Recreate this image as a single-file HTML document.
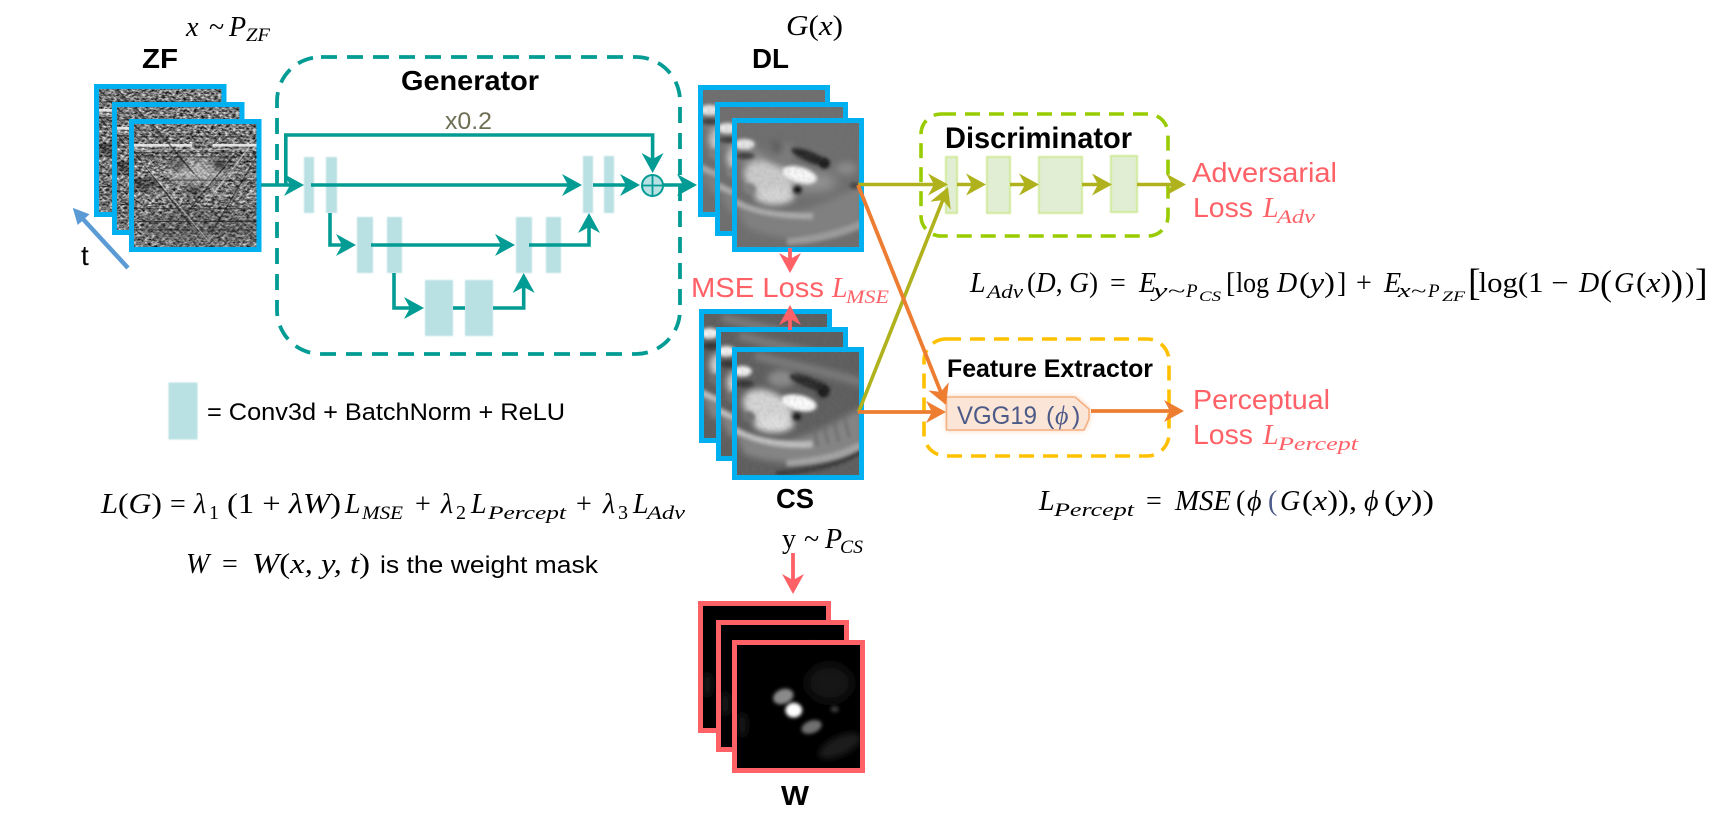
<!DOCTYPE html>
<html><head><meta charset="utf-8"><title>GAN diagram</title>
<style>
html,body{margin:0;padding:0;background:#fff;width:1715px;height:831px;overflow:hidden}
svg{display:block}
text{font-family:"Liberation Sans",sans-serif;white-space:pre}
.b{font-weight:bold;fill:#000}
.r{font-size:28px;fill:#ff6167}
.m{font-family:"Liberation Serif",serif;font-style:italic;font-size:28px;fill:#000}
.u{font-family:"Liberation Serif",serif;font-size:28px;fill:#000}
.s{font-family:"Liberation Serif",serif;font-style:italic;font-size:19px;fill:#000}
.ss{font-family:"Liberation Serif",serif;font-style:italic;font-size:15px;fill:#000}
.rm{fill:#ff6167}
.t{stroke:#029c94;stroke-width:3.6;fill:none}
.o{stroke:#afb11d;stroke-width:3.6;fill:none}
.g{stroke:#ed7d31;stroke-width:3.8;fill:none}
.bk{fill:#b9e0e3;filter:url(#soft)}
.dk{fill:#e1eed3;stroke:#cfe99a;stroke-width:2;filter:url(#soft2)}
.fb{fill:none;stroke:#00b0f0;stroke-width:5}
.fr{fill:none;stroke:#ff6167;stroke-width:5}
</style></head><body>
<svg width="1715" height="831" viewBox="0 0 1715 831" xmlns="http://www.w3.org/2000/svg">
<defs>
<filter id="soft" x="-30%" y="-10%" width="160%" height="120%"><feGaussianBlur stdDeviation="0.9"/></filter>
<filter id="soft2" x="-30%" y="-10%" width="160%" height="120%"><feGaussianBlur stdDeviation="0.6"/></filter>
<filter id="b1" x="-60%" y="-60%" width="220%" height="220%"><feGaussianBlur stdDeviation="1.7"/></filter>
<filter id="b2" x="-60%" y="-60%" width="220%" height="220%"><feGaussianBlur stdDeviation="3.2"/></filter>
<filter id="b4" x="-60%" y="-60%" width="220%" height="220%"><feGaussianBlur stdDeviation="5.5"/></filter>
<filter id="glow" x="-10%" y="-30%" width="120%" height="160%"><feGaussianBlur stdDeviation="3"/></filter>
<filter id="noise" x="0" y="0" width="100%" height="100%" color-interpolation-filters="sRGB">
 <feTurbulence type="fractalNoise" baseFrequency="0.3 0.5" numOctaves="3" seed="7"/>
 <feColorMatrix type="matrix" values="1.5 0 0 0 -0.28  1.5 0 0 0 -0.28  1.5 0 0 0 -0.28  0 0 0 0 1"/>
</filter>
<filter id="grain" x="0" y="0" width="100%" height="100%" color-interpolation-filters="sRGB">
 <feTurbulence type="fractalNoise" baseFrequency="0.28" numOctaves="2" seed="3"/>
 <feColorMatrix type="matrix" values="0 0 0 0 0.5  0 0 0 0 0.5  0 0 0 0 0.5  1.2 0 0 0 -0.45"/>
</filter>
<pattern id="d1" width="9" height="9" patternUnits="userSpaceOnUse" patternTransform="rotate(42)"><rect width="1" height="9" fill="#222" opacity=".3"/><rect x="4" width="1" height="9" fill="#eee" opacity=".2"/></pattern>
<pattern id="d2" width="11" height="11" patternUnits="userSpaceOnUse" patternTransform="rotate(-42)"><rect width="1" height="11" fill="#222" opacity=".28"/><rect x="5" width="1" height="11" fill="#eee" opacity=".18"/></pattern>
<marker id="at" markerUnits="userSpaceOnUse" markerWidth="22" markerHeight="22" viewBox="0 0 22 22" refX="12" refY="11" orient="auto"><path d="M0,0 L20,11 L0,22 L6,11Z" fill="#029c94"/></marker>
<marker id="ao" markerUnits="userSpaceOnUse" markerWidth="22" markerHeight="22" viewBox="0 0 22 22" refX="12" refY="11" orient="auto"><path d="M0,0 L20,11 L0,22 L6,11Z" fill="#afb11d"/></marker>
<marker id="ag" markerUnits="userSpaceOnUse" markerWidth="22" markerHeight="22" viewBox="0 0 22 22" refX="12" refY="11" orient="auto"><path d="M0,0 L20,11 L0,22 L6,11Z" fill="#ed7d31"/></marker>
<marker id="ar" markerUnits="userSpaceOnUse" markerWidth="22" markerHeight="22" viewBox="0 0 22 22" refX="12" refY="11" orient="auto"><path d="M0,0 L20,11 L0,22 L6,11Z" fill="#ff6167"/></marker>
<marker id="ab" markerUnits="userSpaceOnUse" markerWidth="18" markerHeight="18" viewBox="0 0 18 18" refX="3" refY="9" orient="auto"><path d="M0,1 L16,9 L0,17Z" fill="#5b9bd5"/></marker>

<symbol id="zf" viewBox="0 0 122 122" preserveAspectRatio="none">
 <rect width="122" height="122" fill="#808080"/>
 <rect width="122" height="122" filter="url(#noise)"/>
 <ellipse cx="62" cy="48" rx="28" ry="13" fill="#d8d8d8" opacity=".55" filter="url(#b4)"/>
 <ellipse cx="45" cy="41" rx="8" ry="4" fill="#111" opacity=".7" filter="url(#b2)"/>
 <ellipse cx="85" cy="41" rx="9" ry="4" fill="#111" opacity=".75" filter="url(#b2)"/>
 <ellipse cx="12" cy="60" rx="12" ry="5" fill="#111" opacity=".6" filter="url(#b2)"/>
 <ellipse cx="60" cy="66" rx="8" ry="5" fill="#111" opacity=".6" filter="url(#b2)"/>
 <ellipse cx="70" cy="100" rx="60" ry="18" fill="#444" opacity=".35" filter="url(#b4)"/>
 <rect width="122" height="122" fill="url(#d1)"/>
 <rect width="122" height="122" fill="url(#d2)"/>
 <g fill="none" stroke-width="1">
  <path d="M0,15H122M0,30H122M0,34H122M0,56H122M0,83H122M0,95H122M0,103H122" stroke="#111" opacity=".55"/>
  <path d="M0,23H58M78,23H120" stroke="#eee" stroke-width="2.5" opacity=".9"/>
  <path d="M0,27H122M0,50H122M0,70H122" stroke="#ddd" opacity=".4"/>
  <path d="M0,25L58,100M18,0L60,50M100,30L52,88M122,30L80,100" stroke="#111" stroke-width="1.4" opacity=".55"/>
  <path d="M10,38L75,115M120,15L70,80" stroke="#eee" stroke-width="1.2" opacity=".45"/>
 </g>
</symbol>

<symbol id="dl" viewBox="0 0 122 122" preserveAspectRatio="none">
 <rect width="122" height="122" fill="#6e6e6e"/>
 <path d="M0,78 C30,95 60,92 122,60 L122,100 C90,115 40,115 10,100Z" fill="#808080" filter="url(#b2)"/>
 <path d="M0,76 C20,88 50,90 75,90" fill="none" stroke="#aaa" stroke-width="6" filter="url(#b1)"/>
 <path d="M50,114 C80,112 105,105 122,97" fill="none" stroke="#9c9c9c" stroke-width="7" filter="url(#b1)"/>
 <path d="M8,30 C25,40 65,70 95,55" fill="#a8a8a8" stroke="#a8a8a8" stroke-width="14" filter="url(#b4)" opacity=".7"/>
 <ellipse cx="32" cy="56" rx="25" ry="16" fill="#cacaca" filter="url(#b2)" transform="rotate(25 32 56)"/>
 <ellipse cx="38" cy="71" rx="19" ry="8" fill="#d4d4d4" filter="url(#b2)"/>
 <ellipse cx="62" cy="51" rx="17" ry="7.5" fill="#f6f6f6" filter="url(#b1)" transform="rotate(15 62 51)"/>
 <ellipse cx="9" cy="22" rx="10" ry="5" fill="#e6e6e6" filter="url(#b1)"/>
 <ellipse cx="10" cy="33" rx="9" ry="3" fill="#3a3a3a" filter="url(#b1)"/>
 <ellipse cx="45" cy="30" rx="13" ry="10" fill="#7d7d7d" filter="url(#b2)"/>
 <ellipse cx="40" cy="25" rx="6" ry="7" fill="#4e4e4e" opacity=".6" filter="url(#b2)"/>
 <ellipse cx="72" cy="34" rx="19" ry="5" fill="#262626" filter="url(#b1)" transform="rotate(22 72 34)"/>
 <ellipse cx="86" cy="40" rx="5" ry="5" fill="#1a1a1a" filter="url(#b1)"/>
 <ellipse cx="60" cy="65" rx="4" ry="3.5" fill="#080808" filter="url(#b1)"/>
 <ellipse cx="14" cy="64" rx="6" ry="5" fill="#808080" filter="url(#b1)"/>
 <ellipse cx="115" cy="61" rx="5" ry="3" fill="#444" filter="url(#b1)"/>
 <ellipse cx="107" cy="45" rx="10" ry="6" fill="#8a8a8a" filter="url(#b2)"/>
 <rect width="122" height="122" filter="url(#grain)" opacity=".25"/>
</symbol>

<symbol id="cs" viewBox="0 0 122 122" preserveAspectRatio="none">
 <rect width="122" height="122" fill="#5e5e5e"/>
 <path d="M0,78 C30,95 60,92 122,55 L122,100 C90,112 40,110 10,100Z" fill="#858585" filter="url(#b2)"/>
 <path d="M0,76 C20,88 50,92 75,90" fill="none" stroke="#c0c0c0" stroke-width="6" filter="url(#b1)"/>
 <path d="M40,118 C80,114 105,108 122,97" fill="none" stroke="#3a3a3a" stroke-width="5" filter="url(#b1)"/>
 <path d="M50,108 C80,106 105,100 122,90" fill="none" stroke="#a5a5a5" stroke-width="6" filter="url(#b1)"/>
 <path d="M20,6 C55,16 85,20 122,32" fill="none" stroke="#808080" stroke-width="7" filter="url(#b2)"/>
 <ellipse cx="32" cy="56" rx="25" ry="16" fill="#d4d4d4" filter="url(#b2)" transform="rotate(25 32 56)"/>
 <ellipse cx="38" cy="71" rx="19" ry="8" fill="#dedede" filter="url(#b2)"/>
 <ellipse cx="62" cy="51" rx="17" ry="7.5" fill="#fafafa" filter="url(#b1)" transform="rotate(12 62 51)"/>
 <ellipse cx="8" cy="21" rx="9" ry="5" fill="#f0f0f0" filter="url(#b1)"/>
 <ellipse cx="10" cy="33" rx="9" ry="3" fill="#303030" filter="url(#b1)"/>
 <ellipse cx="45" cy="28" rx="13" ry="8" fill="#8a8a8a" filter="url(#b2)"/>
 <ellipse cx="72" cy="32" rx="20" ry="5" fill="#2c2c2c" filter="url(#b1)" transform="rotate(20 72 32)"/>
 <ellipse cx="85" cy="40" rx="6" ry="6" fill="#1c1c1c" filter="url(#b1)"/>
 <ellipse cx="60" cy="64" rx="4" ry="3.5" fill="#161616" filter="url(#b1)"/>
 <ellipse cx="14" cy="64" rx="6" ry="5" fill="#707070" filter="url(#b1)"/>
 <path d="M75,72L80,92M85,70L90,90M95,68L100,88M105,64L110,84" stroke="#666" stroke-width="2" filter="url(#b1)"/>
 <rect width="122" height="122" filter="url(#grain)" opacity=".25"/>
</symbol>

<symbol id="wm" viewBox="0 0 122 122" preserveAspectRatio="none">
 <rect width="122" height="122" fill="#000"/>
 <ellipse cx="90" cy="38" rx="22" ry="18" fill="#141414" filter="url(#b4)"/>
 <ellipse cx="100" cy="98" rx="22" ry="9" fill="#1c1c1c" filter="url(#b2)" transform="rotate(-25 100 98)"/>
 <ellipse cx="7" cy="78" rx="5" ry="12" fill="#141414" filter="url(#b2)"/>
 <ellipse cx="46" cy="51" rx="10" ry="7" fill="#8a8a8a" filter="url(#b1)" transform="rotate(-20 46 51)"/>
 <ellipse cx="56" cy="64" rx="8" ry="7" fill="#ffffff" filter="url(#b1)"/>
 <ellipse cx="73" cy="80" rx="10" ry="6" fill="#707070" filter="url(#b1)" transform="rotate(-20 73 80)"/>
 <ellipse cx="95" cy="63" rx="4" ry="3" fill="#3a3a3a" filter="url(#b1)"/>
</symbol>
</defs>

<rect width="1715" height="831" fill="#fff"/>

<!-- ZF stack -->
<use href="#zf" x="96" y="86" width="128" height="129"/><rect x="96.5" y="86.5" width="127.5" height="128" class="fb"/>
<use href="#zf" x="114" y="104" width="128" height="129"/><rect x="114.5" y="104.5" width="127.5" height="128" class="fb"/>
<use href="#zf" x="131" y="121" width="128" height="129"/><rect x="131.5" y="121.5" width="127.5" height="128" class="fb"/>
<text x="142" y="68" class="b" font-size="28" textLength="36" lengthAdjust="spacingAndGlyphs">ZF</text>
<text x="186" y="36" class="m">x</text><text x="209" y="36" class="u">~</text><text x="229" y="36" class="m">P</text><text x="246" y="41" class="s" textLength="24" lengthAdjust="spacingAndGlyphs">ZF</text>
<line x1="128" y1="268" x2="79" y2="220" stroke="#5b9bd5" stroke-width="4.5" transform="rotate(3 128 268)" marker-end="url(#ab)"/>
<text x="81" y="265" font-size="28" fill="#000">t</text>

<!-- Generator -->
<rect x="277" y="57" width="403" height="297" rx="44" ry="44" fill="none" stroke="#029c94" stroke-width="3.8" stroke-dasharray="16 10"/>
<text x="401" y="90" class="b" font-size="28" textLength="138" lengthAdjust="spacingAndGlyphs">Generator</text>
<text x="445" y="129" font-size="24" fill="#6f6f55" textLength="47" lengthAdjust="spacingAndGlyphs">x0.2</text>

<rect class="bk" x="304" y="157" width="10" height="56"/><rect class="bk" x="326" y="157" width="11" height="56"/>
<rect class="bk" x="583" y="156" width="10" height="57"/><rect class="bk" x="604" y="156" width="10" height="57"/>
<rect class="bk" x="357" y="217" width="16" height="56"/><rect class="bk" x="387" y="217" width="15" height="56"/>
<rect class="bk" x="516" y="217" width="16" height="56"/><rect class="bk" x="546" y="217" width="15" height="56"/>
<rect class="bk" x="425" y="280" width="28" height="56"/><rect class="bk" x="465" y="280" width="28" height="56"/>

<path class="t" d="M285.8,185V135H652.6V165" marker-end="url(#at)"/>
<line class="t" x1="261" y1="185" x2="296" y2="185" marker-end="url(#at)"/>
<line class="t" x1="311" y1="185" x2="574" y2="185" marker-end="url(#at)"/>
<line class="t" x1="593" y1="185" x2="632" y2="185" marker-end="url(#at)"/>
<line class="t" x1="663" y1="185" x2="689" y2="185" marker-end="url(#at)"/>
<circle cx="652.5" cy="185.5" r="10.5" fill="#b9e0e3" stroke="#029c94" stroke-width="2"/>
<path d="M642,185.5H663M652.5,175V196" stroke="#029c94" stroke-width="1.8"/>
<path class="t" d="M330,213V245H348" marker-end="url(#at)"/>
<line class="t" x1="371" y1="245" x2="507" y2="245" marker-end="url(#at)"/>
<path class="t" d="M529,245H589V221" marker-end="url(#at)"/>
<path class="t" d="M394,273V308H416" marker-end="url(#at)"/>
<line class="t" x1="453" y1="308" x2="465" y2="308"/>
<path class="t" d="M493,308H523.7V281" marker-end="url(#at)"/>

<!-- Legend -->
<rect class="bk" x="168.5" y="382.5" width="29" height="57"/>
<text x="207" y="420" font-size="24" fill="#000" textLength="358" lengthAdjust="spacingAndGlyphs">= Conv3d + BatchNorm + ReLU</text>

<!-- L(G) -->
<text x="101" y="513" class="m" textLength="17" lengthAdjust="spacingAndGlyphs">L</text>
<text x="118" y="513" class="u" textLength="44" lengthAdjust="spacingAndGlyphs">(<tspan font-style="italic">G</tspan>)</text>
<text x="170" y="513" class="u">=</text>
<text x="194" y="513" class="m">λ</text><text x="209" y="519" class="u" style="font-size:20px">1</text>
<text x="227" y="513" class="u" textLength="114" lengthAdjust="spacingAndGlyphs">(1 + <tspan font-style="italic">λW</tspan>)</text>
<text x="345" y="513" class="m">L</text><text x="362" y="519" class="s" textLength="41" lengthAdjust="spacingAndGlyphs">MSE</text>
<text x="415" y="513" class="u">+</text>
<text x="441" y="513" class="m">λ</text><text x="456" y="519" class="u" style="font-size:20px">2</text>
<text x="471" y="513" class="m">L</text><text x="488" y="519" class="s" textLength="78" lengthAdjust="spacingAndGlyphs">Percept</text>
<text x="576" y="513" class="u">+</text>
<text x="603" y="513" class="m">λ</text><text x="618" y="519" class="u" style="font-size:20px">3</text>
<text x="633" y="513" class="m">L</text><text x="647" y="519" class="s" textLength="38" lengthAdjust="spacingAndGlyphs">Adv</text>

<!-- W eq -->
<text x="186" y="573" class="m">W</text>
<text x="222" y="573" class="u">=</text>
<text x="252" y="573" class="m" textLength="118" lengthAdjust="spacingAndGlyphs">W<tspan font-style="normal">(</tspan>x, y, t<tspan font-style="normal">)</tspan></text>
<text x="380" y="573" font-size="24" fill="#000" textLength="218" lengthAdjust="spacingAndGlyphs">is the weight mask</text>

<!-- DL stack -->
<use href="#dl" x="700" y="87" width="128" height="128"/><rect x="700.5" y="87.5" width="127" height="127" class="fb"/>
<use href="#dl" x="718" y="105" width="128" height="129"/><rect x="717.5" y="104.5" width="128" height="129" class="fb"/>
<use href="#dl" x="735" y="121" width="127" height="129"/><rect x="734.5" y="120.5" width="127" height="129" class="fb"/>
<text x="752" y="68" class="b" font-size="28" textLength="37" lengthAdjust="spacingAndGlyphs">DL</text>
<text x="786" y="35" class="m" textLength="57" lengthAdjust="spacingAndGlyphs">G<tspan font-style="normal">(</tspan>x<tspan font-style="normal">)</tspan></text>

<!-- CS stack -->
<use href="#cs" x="701" y="311" width="129" height="130"/><rect x="701.5" y="311.5" width="128" height="129" class="fb"/>
<use href="#cs" x="718" y="329" width="128" height="130"/><rect x="718.5" y="329.5" width="127" height="129" class="fb"/>
<use href="#cs" x="734" y="349" width="128" height="129"/><rect x="734.5" y="349.5" width="127" height="128" class="fb"/>
<text x="776" y="508" class="b" font-size="28" textLength="38" lengthAdjust="spacingAndGlyphs">CS</text>
<text x="782" y="548" class="u">y</text><text x="804" y="548" class="u">~</text><text x="825" y="548" class="m">P</text><text x="840" y="553" class="s" textLength="23" lengthAdjust="spacingAndGlyphs">CS</text>

<!-- MSE -->
<line x1="790" y1="248" x2="790" y2="265" stroke="#ff6167" stroke-width="3.8" marker-end="url(#ar)"/>
<text x="691" y="297" class="r" textLength="133" lengthAdjust="spacingAndGlyphs">MSE Loss</text>
<text x="832" y="297" class="m rm">L</text><text x="846" y="303" class="s rm" textLength="43" lengthAdjust="spacingAndGlyphs">MSE</text>
<line x1="790" y1="330" x2="790" y2="313" stroke="#ff6167" stroke-width="3.8" marker-end="url(#ar)"/>

<!-- W stack -->
<line x1="793" y1="553" x2="793" y2="586" stroke="#ff6167" stroke-width="3.8" marker-end="url(#ar)"/>
<use href="#wm" x="700" y="603" width="129" height="128"/><rect x="700.5" y="603.5" width="128" height="127" class="fr"/>
<use href="#wm" x="718" y="622" width="129" height="128"/><rect x="718.5" y="622.5" width="128" height="127" class="fr"/>
<use href="#wm" x="735" y="643" width="128" height="128"/><rect x="734.5" y="642.5" width="128" height="128" class="fr"/>
<text x="781" y="805" class="b" font-size="28" textLength="28" lengthAdjust="spacingAndGlyphs">W</text>

<!-- Discriminator -->
<rect x="921" y="114" width="247" height="122" rx="20" ry="20" fill="none" stroke="#99cc00" stroke-width="3.6" stroke-dasharray="15 9"/>
<text x="945" y="148" class="b" font-size="30" textLength="187" lengthAdjust="spacingAndGlyphs">Discriminator</text>
<rect class="dk" x="946" y="157" width="11" height="56"/>
<rect class="dk" x="987" y="157" width="23" height="56"/>
<rect class="dk" x="1039" y="157" width="43" height="56"/>
<rect class="dk" x="1111" y="156" width="26" height="56"/>
<line class="o" x1="858" y1="184.5" x2="940" y2="184.5" marker-end="url(#ao)"/>
<line class="o" x1="957" y1="184.5" x2="978" y2="184.5" marker-end="url(#ao)"/>
<line class="o" x1="1010" y1="184.5" x2="1031" y2="184.5" marker-end="url(#ao)"/>
<line class="o" x1="1082" y1="184.5" x2="1104" y2="184.5" marker-end="url(#ao)"/>
<line class="o" x1="1137" y1="184.5" x2="1178" y2="184.5" marker-end="url(#ao)"/>
<text x="1192" y="182" class="r" textLength="145" lengthAdjust="spacingAndGlyphs">Adversarial</text>
<text x="1193" y="217" class="r" textLength="60" lengthAdjust="spacingAndGlyphs">Loss</text>
<text x="1263" y="217" class="m rm">L</text><text x="1277" y="223" class="s rm" textLength="38" lengthAdjust="spacingAndGlyphs">Adv</text>

<!-- Feature Extractor -->
<rect x="924" y="339" width="245" height="117" rx="22" ry="22" fill="none" stroke="#ffc000" stroke-width="3.6" stroke-dasharray="15 9"/>
<text x="947" y="377" class="b" font-size="25" textLength="206" lengthAdjust="spacingAndGlyphs">Feature Extractor</text>
<path d="M946.5,397H1075L1089,409V419L1084,430H946.5Z" fill="#f4b183" filter="url(#glow)" opacity=".75"/>
<path d="M946.5,397H1075L1089,409V419L1084,430H946.5Z" fill="#fbe5d6" stroke="#f4b183" stroke-width="1.6"/>
<text x="957" y="424" font-size="25" fill="#4c5a88" textLength="80" lengthAdjust="spacingAndGlyphs">VGG19</text>
<text x="1046" y="424" font-size="25" fill="#4c5a88">(</text><text x="1055" y="424" class="m" style="fill:#4c5a88;font-size:26px">ϕ</text><text x="1072" y="424" font-size="25" fill="#4c5a88">)</text>
<line class="g" x1="1091" y1="411" x2="1176" y2="411" marker-end="url(#ag)"/>
<text x="1193" y="409" class="r" textLength="137" lengthAdjust="spacingAndGlyphs">Perceptual</text>
<text x="1193" y="444" class="r" textLength="60" lengthAdjust="spacingAndGlyphs">Loss</text>
<text x="1263" y="444" class="m rm">L</text><text x="1278" y="450" class="s rm" textLength="80" lengthAdjust="spacingAndGlyphs">Percept</text>

<!-- crossing connectors -->
<line class="o" x1="858.6" y1="412" x2="945" y2="194.5" marker-end="url(#ao)"/>
<line class="g" x1="858" y1="185" x2="943" y2="397.5" marker-end="url(#ag)"/>
<line class="g" x1="858" y1="412" x2="938" y2="412" marker-end="url(#ag)"/>

<!-- L_Adv eq -->
<text x="970" y="292" class="m">L</text><text x="987" y="298" class="s" textLength="36" lengthAdjust="spacingAndGlyphs">Adv</text>
<text x="1027" y="292" class="u" textLength="71" lengthAdjust="spacingAndGlyphs">(<tspan font-style="italic">D</tspan>, <tspan font-style="italic">G</tspan>)</text>
<text x="1110" y="292" class="u">=</text>
<text x="1139" y="292" class="m">E</text>
<text x="1153" y="297" class="s" textLength="32" lengthAdjust="spacingAndGlyphs">y~</text><text x="1186" y="297" class="s">P</text><text x="1199" y="301" class="ss" textLength="22" lengthAdjust="spacingAndGlyphs">CS</text>
<text x="1226" y="292" class="u">[</text>
<text x="1236" y="292" class="u" textLength="33" lengthAdjust="spacingAndGlyphs">log</text>
<text x="1277" y="292" class="m">D</text>
<text x="1299" y="292" class="u" textLength="36" lengthAdjust="spacingAndGlyphs">(<tspan font-style="italic">y</tspan>)</text>
<text x="1337" y="292" class="u">]</text>
<text x="1356" y="292" class="u">+</text>
<text x="1384" y="292" class="m">E</text>
<text x="1398" y="297" class="s" textLength="28" lengthAdjust="spacingAndGlyphs">x~</text><text x="1428" y="297" class="s">P</text><text x="1442" y="301" class="ss" textLength="23" lengthAdjust="spacingAndGlyphs">ZF</text>
<text x="1468" y="295" class="u" style="font-size:38px">[</text>
<text x="1478.6" y="292" class="u" textLength="90" lengthAdjust="spacingAndGlyphs">log(1 −</text>
<text x="1579" y="292" class="m">D</text>
<text x="1600" y="295" class="u" style="font-size:36px">(</text>
<text x="1614" y="292" class="m">G</text>
<text x="1636" y="292" class="u" textLength="35" lengthAdjust="spacingAndGlyphs">(<tspan font-style="italic">x</tspan>)</text>
<text x="1671" y="295" class="u" style="font-size:36px">)</text>
<text x="1685" y="292" class="u">)</text>
<text x="1695" y="295" class="u" style="font-size:38px">]</text>

<!-- L_Percept eq -->
<text x="1039" y="510" class="m">L</text><text x="1054" y="516" class="s" textLength="80" lengthAdjust="spacingAndGlyphs">Percept</text>
<text x="1146" y="510" class="u">=</text>
<text x="1175" y="510" class="m" textLength="56" lengthAdjust="spacingAndGlyphs">MSE</text>
<text x="1236" y="510" class="u">(</text><text x="1247" y="510" class="m">ϕ</text>
<text x="1268" y="510" class="u" style="fill:#4c5a88">(</text>
<text x="1280" y="510" class="m">G</text>
<text x="1302" y="510" class="u" textLength="55" lengthAdjust="spacingAndGlyphs">(<tspan font-style="italic">x</tspan>)),</text>
<text x="1364" y="510" class="m">ϕ</text>
<text x="1384" y="510" class="u" textLength="50" lengthAdjust="spacingAndGlyphs">(<tspan font-style="italic">y</tspan>))</text>
</svg>
</body></html>
